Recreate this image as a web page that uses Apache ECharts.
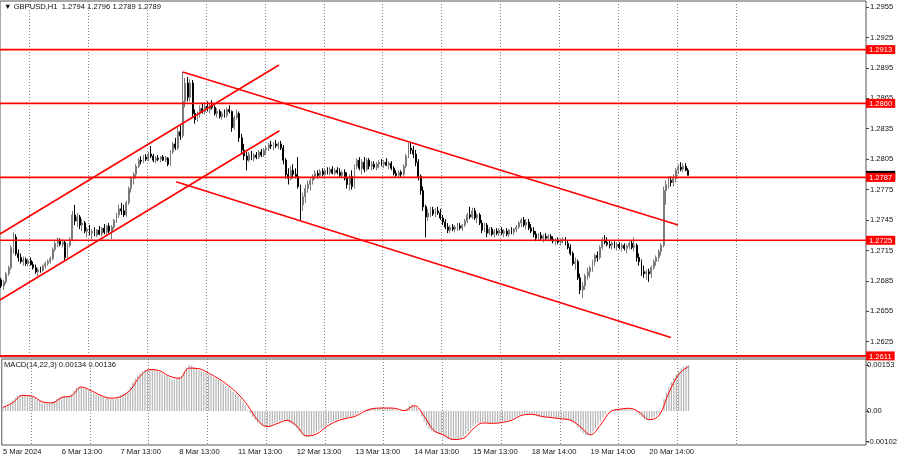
<!DOCTYPE html>
<html><head><meta charset="utf-8">
<script src="https://cdn.jsdelivr.net/npm/echarts@6/dist/echarts.min.js"></script>
<style>html,body{margin:0;padding:0;background:#fff}#c{width:900px;height:460px}</style>
</head><body><div id="c"></div>
<script>
// prices are stored in pips above 1.2600
const PIP_BASE = 1.26;
const opens = [
86,80,84,92,98,118,128,112,108,104,
106,102,105,101,98,94,96,95,100,102,
104,107,116,122,124,121,123,108,120,126,
150,144,148,140,142,134,136,132,134,130,
135,131,137,133,139,134,138,145,150,156,
154,150,162,176,186,190,198,204,203,207,
205,210,208,204,206,205,207,204,206,200,
212,220,216,232,228,262,280,266,280,250,
244,250,255,252,257,254,258,256,250,252,
247,250,248,254,252,236,246,250,226,214,
208,204,210,206,209,207,212,209,214,216,
219,218,220,218,220,216,204,190,186,194,
190,188,178,160,168,176,180,184,188,191,
189,193,190,194,192,195,191,194,192,189,
192,186,180,188,178,198,204,196,202,195,
204,198,200,197,200,202,200,202,199,201,
196,191,189,192,190,198,208,216,214,210,
202,188,174,158,148,152,155,151,154,152,
147,143,138,135,138,136,138,139,137,140,
144,150,148,154,147,150,142,135,140,132,
136,131,134,132,135,132,134,131,135,133,
136,138,142,145,140,143,137,134,131,127,
130,127,129,127,129,126,124,125,123,125,
126,122,118,112,102,104,88,76,80,90,
94,98,104,110,108,118,125,123,121,120,
122,119,121,118,120,117,119,122,118,120,
108,104,94,92,94,92,98,104,108,114,
120,174,180,184,182,186,194,197,195,198,194];
const highs = [
88,86,94,100,120,133,131,116,112,109,
108,107,108,104,101,98,99,101,104,106,
109,118,125,128,127,126,125,122,128,154,
160,152,150,146,144,138,140,136,138,136,
139,138,141,140,142,140,146,152,160,162,
160,164,178,188,192,200,206,208,209,210,
212,218,210,208,209,208,209,208,207,214,
222,226,236,238,291,285,286,284,283,254,
252,258,260,259,262,260,263,258,255,254,
252,254,256,258,253,248,254,252,230,220,
212,212,213,211,212,214,215,216,218,221,
223,222,224,222,223,219,206,196,198,200,
196,207,180,172,180,184,186,190,194,194,
195,196,196,197,197,198,196,197,196,194,
195,192,190,194,200,206,207,205,207,206,
206,203,203,202,204,205,204,206,203,203,
198,194,194,194,200,210,221,222,218,214,
205,190,178,160,156,158,158,157,158,156,
150,146,142,140,141,140,142,142,141,146,
152,158,157,157,152,152,145,142,142,138,
138,136,137,137,138,136,137,136,138,137,
140,144,147,148,146,146,141,138,134,132,
133,131,132,131,131,129,127,128,127,128,
128,125,121,114,108,106,92,84,92,98,
100,106,112,114,120,128,130,128,125,124,
124,123,123,122,122,121,124,125,128,122,
112,106,100,96,97,100,106,110,116,122,
178,184,188,188,190,196,200,202,201,201,196];
const lows = [
78,76,82,90,96,112,110,104,102,100,
100,99,100,96,92,90,93,94,97,100,
102,105,114,118,119,118,104,106,118,124,
140,138,136,134,132,128,130,126,129,128,
130,129,131,131,132,126,136,142,147,150,
148,148,160,172,180,186,196,200,201,203,
203,206,202,201,203,202,203,202,198,198,
210,214,214,224,226,256,262,262,246,240,
242,246,250,249,252,250,254,248,246,245,
244,246,246,250,232,234,244,222,210,204,
194,202,204,203,205,205,207,207,210,213,
215,214,216,215,214,200,186,180,184,186,
186,176,145,154,162,172,174,180,185,186,
187,188,188,190,189,190,189,190,187,186,
184,176,174,175,176,195,194,190,192,193,
195,194,195,194,196,198,196,198,195,194,
189,187,187,187,188,196,206,210,206,198,
184,170,154,128,144,148,149,148,150,145,
140,136,132,132,134,133,134,135,134,138,
142,146,146,145,142,140,132,133,128,130,
129,128,130,129,130,128,129,128,131,130,
133,136,138,138,136,135,132,128,124,124,
125,123,125,124,124,122,120,121,120,122,
120,116,110,100,96,86,72,68,76,86,
88,94,100,104,106,116,121,119,117,116,
117,115,116,114,115,112,116,116,114,104,
100,90,88,86,84,88,96,100,104,110,
118,160,176,178,178,182,190,193,192,193,189];
const closes = [
80,84,92,98,118,128,112,108,104,106,
102,105,101,98,94,96,95,100,102,104,
107,116,122,124,121,123,108,120,126,150,
144,148,140,142,134,136,132,134,130,135,
131,137,133,139,134,138,145,150,156,154,
150,162,176,186,190,198,204,203,207,205,
210,208,204,206,205,207,204,206,200,212,
220,216,232,228,262,280,266,280,250,244,
250,255,252,257,254,258,256,250,252,247,
250,248,254,252,236,246,250,226,214,208,
204,210,206,209,207,212,209,214,216,219,
218,220,218,220,216,204,190,186,194,190,
188,178,160,168,176,180,184,188,191,189,
193,190,194,192,195,191,194,192,189,192,
186,180,188,178,198,204,196,202,195,204,
198,200,197,200,202,200,202,199,201,196,
191,189,192,190,198,208,216,214,210,202,
188,174,158,148,152,155,151,154,152,147,
143,138,135,138,136,138,139,137,140,144,
150,148,154,147,150,142,135,140,132,136,
131,134,132,135,132,134,131,135,133,136,
138,142,145,140,143,137,134,131,127,130,
127,129,127,129,126,124,125,123,125,126,
122,118,112,102,104,88,76,80,90,94,
98,104,110,108,118,125,123,121,120,122,
119,121,118,120,117,119,122,118,120,108,
104,94,92,94,92,98,104,108,114,120,
174,180,184,182,186,194,197,195,198,194,189];

// MACD main (histogram), units of 0.00001
const macdHist = [
14,16,20,27,35,44,50,53,54,54,
52,50,47,43,38,33,29,27,26,26,
28,33,40,45,48,49,47,48,55,68,
78,81,80,77,73,69,65,61,57,53,
50,47,45,43,41,40,42,47,53,58,
60,66,80,95,108,118,126,132,136,139,
140,140,138,135,131,127,122,117,110,105,
104,108,113,116,130,145,153,152,146,140,
136,133,130,126,122,118,113,108,103,97,
91,85,79,72,64,57,50,40,30,18,
4,-8,-20,-30,-38,-45,-50,-53,-53,-50,
-46,-42,-38,-34,-31,-30,-33,-40,-45,-50,
-58,-68,-78,-85,-87,-86,-82,-77,-71,-65,
-59,-53,-47,-42,-37,-33,-30,-28,-26,-25,
-24,-22,-20,-17,-13,-8,-3,2,5,7,
9,10,10,9,9,10,10,11,10,9,
6,3,1,0,3,10,17,20,19,12,
0,-18,-35,-50,-60,-66,-70,-73,-76,-80,
-85,-89,-93,-96,-97,-97,-95,-91,-85,-77,
-68,-58,-50,-44,-40,-38,-38,-38,-40,-41,
-41,-40,-39,-38,-37,-35,-33,-30,-26,-22,
-18,-14,-11,-9,-9,-10,-12,-14,-16,-18,
-19,-20,-21,-22,-23,-24,-25,-26,-27,-28,
-29,-31,-34,-38,-45,-55,-65,-74,-80,-80,
-76,-68,-58,-47,-35,-22,-10,-2,2,4,
5,6,7,8,9,9,8,6,2,-5,
-14,-22,-28,-30,-28,-24,-20,-14,-8,0,
40,62,80,97,110,122,133,142,148,152,153];
// MACD signal line, read at these bars, units of 0.00001
const signalBars = [0,4,8,12,16,20,24,28,32,36,40,44,48,52,56,60,64,68,72,76,80,84,88,92,96,100,104,108,112,116,120,124,128,132,136,140,144,148,152,156,160,164,168,172,176,180,184,188,192,196,200,204,208,212,216,220,224,228,232,236,240,244,248,252,256,260,264,268,272,276,280];
const signalVals = [12,28,52,49,31,27,45,51,80,68,52,43,48,70,116,138,134,116,109,143,141,126,108,85,57,18,-30,-52,-42,-31,-50,-83,-77,-53,-35,-25,-17,0,9,10,9,1,18,-17,-65,-80,-95,-91,-60,-40,-41,-38,-30,-14,-11,-18,-22,-26,-31,-54,-79,-47,-3,6,9,-5,-29,-14,61,122,148];

const priceTicks = [1.2625,1.2655,1.2685,1.2715,1.2745,1.2775,1.2805,1.2835,1.2865,1.2895,1.2925,1.2955];
const levels = [1.2913,1.2860,1.2787,1.2725,1.2611];
const lastPrice = 1.2789;
const macdTicks = [0.00153, 0, -0.00102];
const timeLabels = ['5 Mar 2024','6 Mar 13:00','7 Mar 13:00','8 Mar 13:00','11 Mar 13:00','12 Mar 13:00','13 Mar 13:00','14 Mar 13:00','15 Mar 13:00','18 Mar 14:00','19 Mar 14:00','20 Mar 14:00'];
const timeLabelBars = [0,24,48,72,96,120,144,168,192,216,240,264];
const gridBars = [11.5,35.5,59.5,83.5,107.5,131.5,155.5,179.5,203.5,227.5,251.5,275.5,299.5];

// trend lines: [bar index, price]
const channelUpper = [[-0.5,1.27312],[113.2,1.28978]];
const channelLower = [[-0.5,1.26661],[113.4,1.28330]];
const fallUpper = [[74,1.2891],[275.9,1.2740]];
const fallLower = [[71.3,1.27827],[273.0,1.26291]];

const FONT = 'Liberation Sans';
const FS = 7.6;
const px = v => +(PIP_BASE + v / 10000).toFixed(4);
const candles = closes.map((c, i) => [i, px(opens[i]), px(c), px(lows[i]), px(highs[i])]);
const hist = macdHist.map((v, i) => [i, v / 1e5]);
const signal = signalBars.map((b, k) => [b, signalVals[k] / 1e5]);

const PMIN = 1.260993, PMAX = 1.296092;
const MMIN = -0.001133, MMAX = 0.001733;
const XMIN = -0.5, XMAX = 352.5;

const chart = echarts.init(document.getElementById('c'), null, {renderer: 'canvas'});
const redLine = (d, z) => ({type: 'line', xAxisIndex: 0, yAxisIndex: 0, data: d, symbol: 'none', silent: true, z: z,
  lineStyle: {color: '#ff0000', width: 1.6}});
const noLine = {show: false, onZero: false};
chart.setOption({
  animation: false,
  backgroundColor: '#ffffff',
  grid: [
    {left: 0, right: 34, top: 1, height: 356, show: true, borderColor: '#555', borderWidth: 1},
    {left: 0, right: 34, top: 359, height: 86, show: true, borderColor: '#555', borderWidth: 1}
  ],
  xAxis: [
    {type: 'value', gridIndex: 0, min: XMIN, max: XMAX, axisLine: noLine,
      axisLabel: {show: false}, axisTick: {show: false, customValues: gridBars},
      splitLine: {show: true, lineStyle: {color: '#8a8a8a', type: [1, 2], width: 1}}},
    {type: 'value', gridIndex: 1, min: XMIN, max: XMAX, axisLine: noLine,
      axisTick: {show: false, customValues: gridBars},
      splitLine: {show: true, lineStyle: {color: '#8a8a8a', type: [1, 2], width: 1}},
      axisLabel: {show: true, customValues: timeLabelBars, align: 'left', margin: 3,
        formatter: v => timeLabels[timeLabelBars.indexOf(Math.round(v))] || '',
        color: '#111', fontSize: FS, fontFamily: FONT}}
  ],
  yAxis: [
    {type: 'value', gridIndex: 0, position: 'right', min: PMIN, max: PMAX,
      axisLine: noLine, splitLine: {show: false},
      axisTick: {show: true, customValues: priceTicks, length: 3, lineStyle: {color: '#444'}},
      axisLabel: {customValues: priceTicks, formatter: v => v.toFixed(4), margin: 4,
        color: '#111', fontSize: FS, fontFamily: FONT}},
    {type: 'value', gridIndex: 0, position: 'right', min: PMIN, max: PMAX,
      axisLine: noLine, splitLine: {show: false}, axisTick: {show: false},
      axisLabel: {customValues: [lastPrice].concat(levels), margin: 0,
        formatter: v => (Math.abs(v - lastPrice) < 1e-6 ? '{b|' : '{r|') + v.toFixed(4) + '}',
        rich: {
          r: {backgroundColor: '#ff0000', color: '#ffffff', padding: [1, 3, 0, 3], fontSize: FS, fontFamily: FONT, lineHeight: 8},
          b: {backgroundColor: '#000000', color: '#ffffff', padding: [1, 3, 0, 3], fontSize: FS, fontFamily: FONT, lineHeight: 8}
        }}},
    {type: 'value', gridIndex: 1, position: 'right', min: MMIN, max: MMAX,
      axisLine: noLine, splitLine: {show: false},
      axisTick: {show: true, customValues: macdTicks, length: 3, lineStyle: {color: '#444'}},
      axisLabel: {customValues: macdTicks, formatter: v => (v === 0 ? '0.00' : v.toFixed(5)), margin: 1,
        color: '#111', fontSize: FS, fontFamily: FONT}}
  ],
  series: [
    {type: 'candlestick', xAxisIndex: 0, yAxisIndex: 0, data: candles, barWidth: 1.4, z: 3,
      itemStyle: {color: '#c4c4c4', color0: '#000000', borderColor: '#7a7a7a', borderColor0: '#000000', borderWidth: 1}},
    redLine(channelUpper, 5), redLine(channelLower, 5), redLine(fallUpper, 5), redLine(fallLower, 5)
  ].concat(levels.map(l => redLine([[XMIN, l], [XMAX, l]], 6))).concat([
    {type: 'bar', xAxisIndex: 1, yAxisIndex: 2, data: hist, barWidth: 1.2, silent: true,
      itemStyle: {color: '#b4b4b4'}},
    {type: 'line', xAxisIndex: 1, yAxisIndex: 2, data: signal, smooth: 0.4, symbol: 'none', silent: true,
      lineStyle: {color: '#ff0000', width: 1}, z: 4}
  ]),
  graphic: [
    {type: 'text', left: 4, top: 3, style: {text: '\u25BC GBPUSD,H1  1.2794 1.2796 1.2789 1.2789', fill: '#111', fontSize: FS, fontFamily: FONT}},
    {type: 'text', left: 4, top: 361, style: {text: 'MACD(14,22,3) 0.00134 0.00136', fill: '#111', fontSize: FS, fontFamily: FONT}}
  ]
});
</script></body></html>
